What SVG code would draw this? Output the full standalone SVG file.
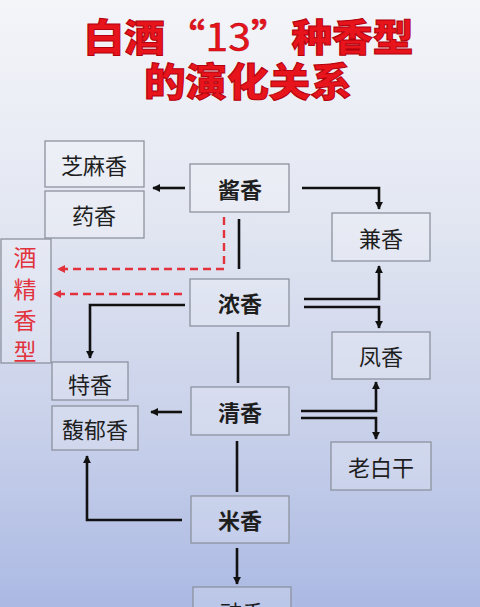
<svg xmlns="http://www.w3.org/2000/svg" width="480" height="607" viewBox="0 0 480 607">
<defs>
<linearGradient id="bg" x1="0" y1="0" x2="0" y2="1">
<stop offset="0" stop-color="#f4f5f9"/>
<stop offset="0.35" stop-color="#e3e7f2"/>
<stop offset="0.7" stop-color="#c9d1ea"/>
<stop offset="1" stop-color="#abb9e3"/>
</linearGradient>
<marker id="ah" viewBox="0 0 10 10" refX="9" refY="5" markerWidth="3.2" markerHeight="3.2" orient="auto" markerUnits="strokeWidth">
<path d="M0,0 L10,5 L0,10 z" fill="#111"/>
</marker>
<marker id="ahr" viewBox="0 0 10 10" refX="9" refY="5" markerWidth="3.4" markerHeight="3.4" orient="auto" markerUnits="strokeWidth">
<path d="M0,0 L10,5 L0,10 z" fill="#e2333d"/>
</marker>
</defs>
<style>
.box{fill:#ffffff;fill-opacity:0.2;stroke:#8c929e;stroke-width:1.3}
.t{font-family:"Noto Sans CJK SC","Noto Sans",sans-serif;font-size:22px;fill:#1e1e1e;text-anchor:middle;dominant-baseline:central}
.b{font-weight:bold}
.ln{fill:none;stroke:#111;stroke-width:2.6}
.arr{marker-end:url(#ah)}
.red{fill:none;stroke:#e2333d;stroke-width:2.4;stroke-dasharray:8 5;marker-end:url(#ahr)}
.title{font-family:"Noto Sans CJK SC",sans-serif;font-weight:900;fill:#e8141c;stroke:#b3000c;stroke-width:1;text-anchor:middle}
.rt{font-family:"Noto Sans CJK SC",sans-serif;font-size:23px;fill:#e2333d;text-anchor:middle;dominant-baseline:central}
</style>
<rect x="0" y="0" width="480" height="607" fill="url(#bg)"/>
<g id="title">
<text class="title" x="248.5" y="51" font-size="38" textLength="330" lengthAdjust="spacingAndGlyphs">白酒<tspan font-weight="400" stroke-width="0.5">“13”</tspan>种香型</text>
<text class="title" x="248" y="96" font-size="39" textLength="208" lengthAdjust="spacingAndGlyphs">的演化关系</text>
</g>
<g id="connectors">
<path class="ln arr" d="M185,188 H153"/>
<path class="ln arr" d="M302,188 H379 V209"/>
<path class="ln" d="M239,219 V269"/>
<path class="red" d="M224,217 V269 H58"/>
<path class="red" d="M182,294 H54"/>
<path class="ln arr" d="M185,305 H90 V358"/>
<path class="ln arr" d="M304,299 H379 V266"/>
<path class="ln arr" d="M304,307 H379 V328"/>
<path class="ln" d="M238,332 V383"/>
<path class="ln arr" d="M182,412 H151"/>
<path class="ln arr" d="M301,411 H376 V382"/>
<path class="ln arr" d="M301,418 H376 V439"/>
<path class="ln" d="M237,441 V492"/>
<path class="ln arr" d="M182,520 H87 V456"/>
<path class="ln arr" d="M237,548 V584"/>
</g>
<g id="n-zhima"><rect class="box" x="45" y="141" width="99" height="46"/><text class="t" x="94" y="164">芝麻香</text></g>
<g id="n-yao"><rect class="box" x="45" y="191" width="99" height="47"/><text class="t" x="94" y="214">药香</text></g>
<g id="n-jiujing"><rect class="box" x="1" y="239" width="50" height="124"/>
<text class="rt" x="25" y="256">酒</text><text class="rt" x="25" y="288">精</text><text class="rt" x="25" y="319">香</text><text class="rt" x="25" y="350">型</text></g>
<g id="n-jiang"><rect class="box" x="190" y="164" width="99" height="48"/><text class="t b" x="240" y="188">酱香</text></g>
<g id="n-jian"><rect class="box" x="332" y="213" width="98" height="48"/><text class="t" x="381" y="237">兼香</text></g>
<g id="n-nong"><rect class="box" x="190" y="279" width="99" height="47"/><text class="t b" x="240" y="302">浓香</text></g>
<g id="n-feng"><rect class="box" x="332" y="332" width="98" height="47"/><text class="t" x="381" y="355">凤香</text></g>
<g id="n-te"><rect class="box" x="52" y="362" width="76" height="38"/><text class="t" x="90" y="383">特香</text></g>
<g id="n-fuyu"><rect class="box" x="52" y="406" width="86" height="44"/><text class="t" x="95" y="428">馥郁香</text></g>
<g id="n-qing"><rect class="box" x="191" y="387" width="98" height="48"/><text class="t b" x="240" y="411">清香</text></g>
<g id="n-laobaigan"><rect class="box" x="331" y="442" width="100" height="48"/><text class="t" x="381" y="466">老白干</text></g>
<g id="n-mi"><rect class="box" x="191" y="496" width="98" height="47"/><text class="t b" x="240" y="519">米香</text></g>
<g id="n-chi"><rect class="box" x="193" y="587" width="98" height="48"/><text class="t" x="242" y="611">豉香</text></g>
</svg>
